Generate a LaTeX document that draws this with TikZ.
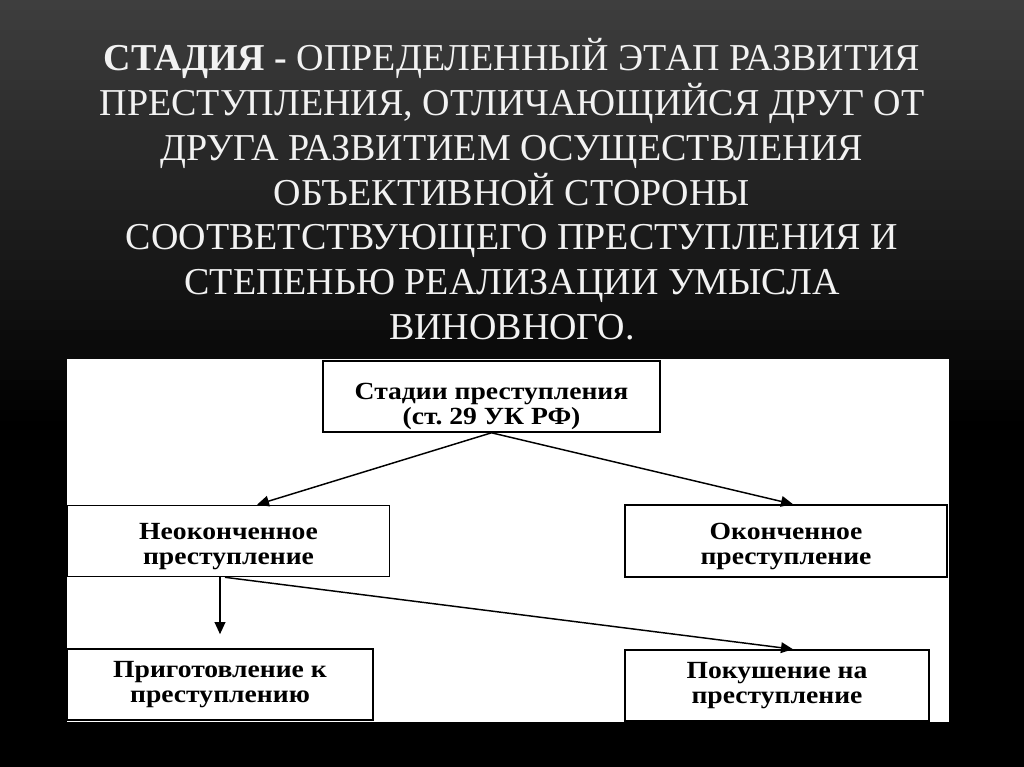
\documentclass[tikz,border=0pt]{standalone}
\usepackage{fontspec}
\setmainfont{Liberation Serif}
\newfontfamily\titlefont{Liberation Serif}
\newfontfamily\boxfont[FakeStretch=1.12]{Liberation Serif}
\usetikzlibrary{arrows.meta,calc}
\definecolor{bgtop}{RGB}{62,62,62}
\definecolor{titlecol}{RGB}{242,242,242}
\frenchspacing

\begin{document}
\begin{tikzpicture}[x=0.75pt,y=-0.75pt,
    titletext/.style={text=titlecol, font=\titlefont\fontsize{28.5}{33}\selectfont, inner sep=0pt, anchor=base},
    stagebox/.style={draw=black, line width=1.2pt, fill=white, align=center, inner sep=0pt,
        font=\boxfont\bfseries\fontsize{18.5}{19}\selectfont},
    arr/.style={line width=1.1pt, -{Triangle[length=9pt,width=8pt]}}]
    \useasboundingbox (0,0) rectangle (1024,767);
    % background (dark gray fading to black) and panel
    \fill[black] (0,0) rectangle (1024,767);
    \foreach \k in {0,...,41}{
        \pgfmathtruncatemacro\pc{100-2.4*\k}
        \fill[bgtop!\pc!black] (0,{10*\k}) rectangle (1024,{10*\k+10.6});
    }
    \fill[white] (67,359) rectangle (949,722);

    % title
    \node[titletext] (t1) at (512,71) {\textbf{СТАДИЯ -} ОПРЕДЕЛЕННЫЙ ЭТАП РАЗВИТИЯ};
    \node[titletext] (t2) at (512,115.7) {ПРЕСТУПЛЕНИЯ, ОТЛИЧАЮЩИЙСЯ ДРУГ ОТ};
    \node[titletext] (t3) at (512,160.4) {ДРУГА РАЗВИТИЕМ ОСУЩЕСТВЛЕНИЯ};
    \node[titletext] (t4) at (512,205.1) {ОБЪЕКТИВНОЙ СТОРОНЫ};
    \node[titletext] (t5) at (512,249.8) {СООТВЕТСТВУЮЩЕГО ПРЕСТУПЛЕНИЯ И};
    \node[titletext] (t6) at (512,294.5) {СТЕПЕНЬЮ РЕАЛИЗАЦИИ УМЫСЛА};
    \node[titletext] (t7) at (512,339.2) {ВИНОВНОГО.};

    % boxes
    \node[stagebox, minimum width=252.75pt, minimum height=53.25pt] (top) at (491.5,396.5) {\rule{0pt}{27pt}Стадии преступления\\(ст. 29 УК РФ)};
    \node[stagebox, minimum width=241.5pt, minimum height=53.25pt] (neok) at (228.5,541) {\rule{0pt}{20pt}Неоконченное\\преступление};
    \node[stagebox, minimum width=241.5pt, minimum height=54pt] (ok) at (786,541) {\rule{0pt}{20pt}Оконченное\\преступление};
    \node[stagebox, minimum width=229.5pt, minimum height=53.25pt] (prig) at (220,684.5) {Приготовление к\\преступлению};
    \node[stagebox, minimum width=228pt, minimum height=53.25pt] (pok) at (777,685.5) {Покушение на\\преступление};

    % arrows
    \draw[arr] (top.south) -- ($(neok.north)+(28.5,0)$);
    \draw[arr] (top.south) -- ($(ok.north)+(7,0)$);
    \draw[arr] ($(neok.south)+(-8.5,0)$) -- ($(prig.north)+(0,-14)$);
    \draw[arr] ($(neok.south)+(-3.5,0)$) -- ($(pok.north)+(16,0)$);
\end{tikzpicture}
\end{document}
